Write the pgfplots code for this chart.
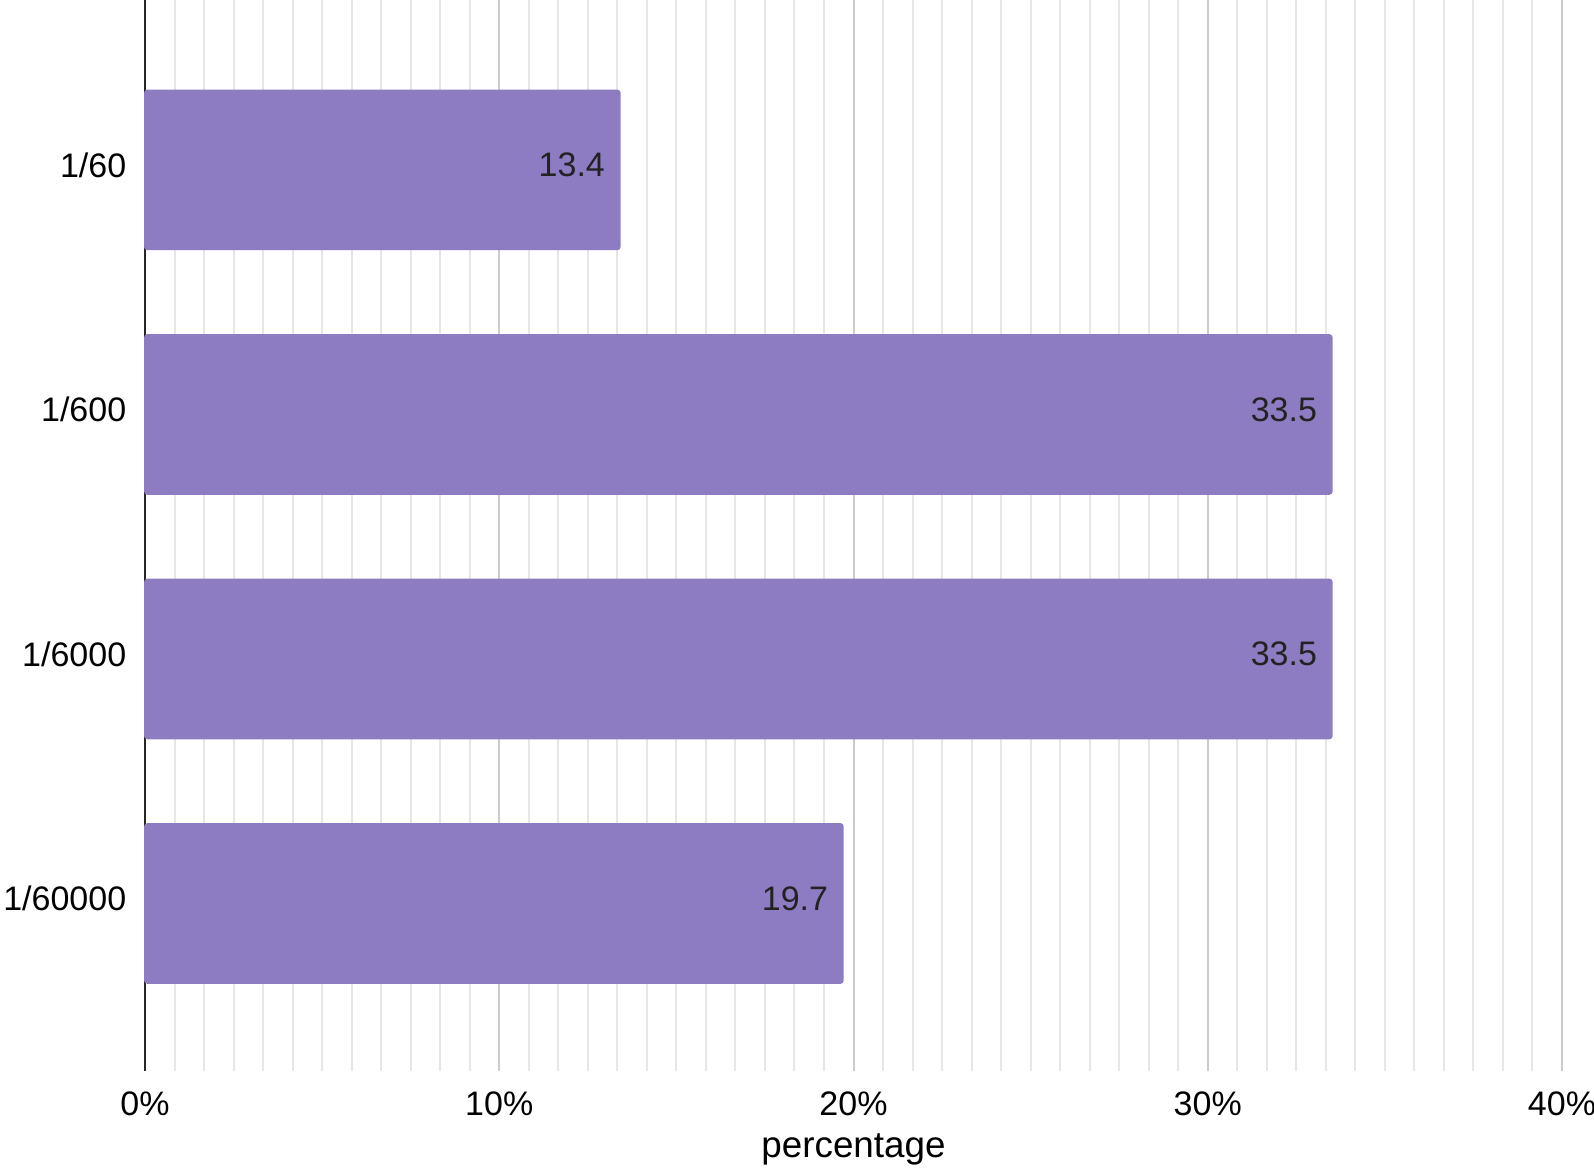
\documentclass[border=0pt]{standalone}
\usepackage{pgfplots}
\pgfplotsset{compat=1.18}
\usepackage{fontspec}
\setmainfont{Liberation Sans}
\definecolor{barcol}{HTML}{8E7CC3}
\definecolor{majgrid}{HTML}{CCCCCC}
\definecolor{mingrid}{HTML}{E6E6E6}
\definecolor{txt}{HTML}{222222}
\begin{document}
\begin{tikzpicture}
\useasboundingbox (-36.25pt,-25.5pt) rectangle (362.25pt,267.75pt);
\begin{axis}[
  scale only axis,
  width=354.25pt, height=267.75pt,
  at={(0,0)}, anchor=south west,
  xbar, bar width=39.75pt,
  xmin=0, xmax=40,
  ymin=-0.695, ymax=3.685,
  y dir=reverse,
  ytick={0,1,2,3},
  yticklabels={1/60,1/600,1/6000,1/60000},
  xtick={0,10,20,30,40},
  minor x tick num=11,
  xmajorgrids, xminorgrids,
  major grid style={majgrid, line width=0.5pt},
  minor grid style={mingrid, line width=0.5pt},
  major tick length=0pt, minor tick length=0pt,
  axis line style={draw=none},
  /pgf/number format/assume math mode=true,
  xticklabel={\pgfmathprintnumber{\tick}\%},
  ticklabel style={font=\fontsize{8.5}{10}\selectfont, text=black},
  xticklabel style={inner sep=0pt, yshift=-4.9pt},
  yticklabel style={inner sep=0pt, xshift=-4.5pt, yshift=1.2pt},
  xlabel={percentage},
  xlabel style={font=\fontsize{9.2}{11}\selectfont, at={(axis description cs:0.5,0)}, anchor=center, yshift=-19.5pt, inner sep=0pt},
  point meta=x,
  nodes near coords,
  nodes near coords style={anchor=east, inner sep=0pt, xshift=-3.5pt, yshift=1.2pt, font=\fontsize{8.5}{10}\selectfont, text=txt,
    /pgf/number format/.cd, fixed, fixed zerofill, precision=1, assume math mode=true},
  clip=false,
]
\draw[black!85, line width=0.6pt] (axis cs:0,-0.695) -- (axis cs:0,3.685);
\addplot[fill=barcol, draw=barcol, rounded corners=0.6pt] coordinates {
  (13.4,0) (33.5,1) (33.5,2) (19.7,3)
};
\end{axis}
\end{tikzpicture}
\end{document}
